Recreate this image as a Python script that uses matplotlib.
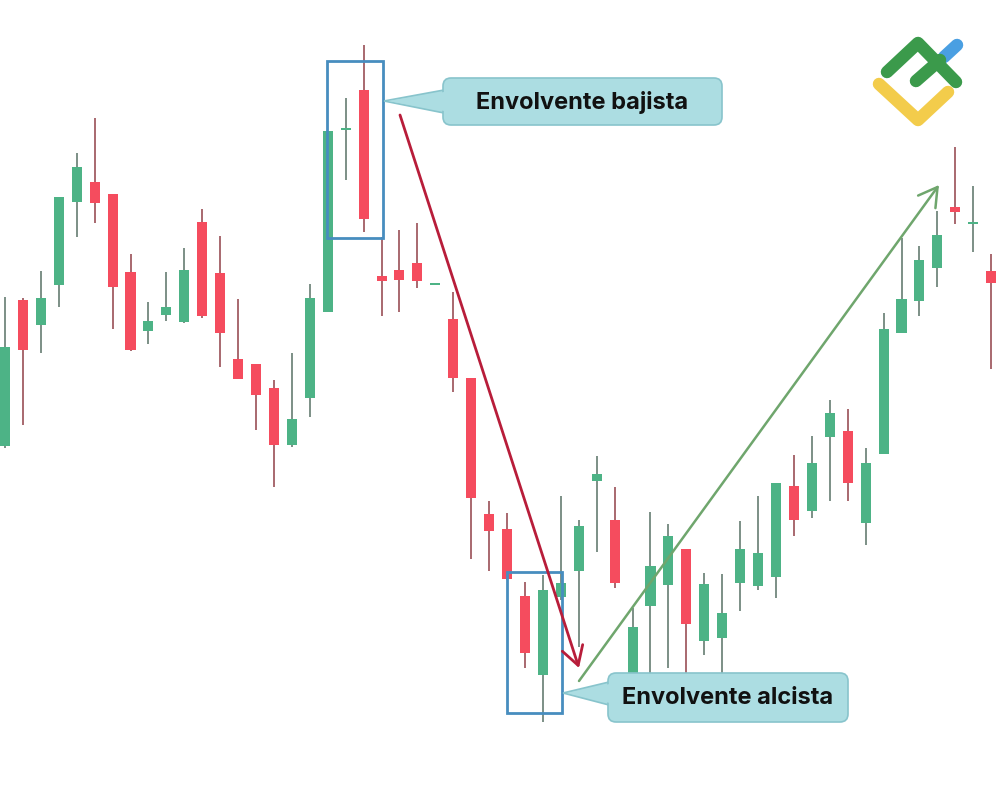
import matplotlib
matplotlib.use("Agg")
import matplotlib.pyplot as plt
from matplotlib.patches import FancyBboxPatch, Polygon, Rectangle, FancyArrowPatch
import numpy as np

# ---- candle data (price units, arbitrary scale) ----
opens  = [354, 500, 475, 515, 598, 618, 606, 528, 469, 485, 478, 578, 527, 441, 436, 412,
          355, 402, 488, 671, 710, 524, 530, 537, 516, 481, 422, 286, 271, 204, 125, 203,
          229, 319, 280, 120, 194, 215, 251, 159, 162, 217, 214, 223, 314, 289, 363, 369,
          277, 346, 467, 499, 532, 593, 577, 529]
highs  = [503, 502, 529, 603, 647, 682, 606, 546, 498, 528, 552, 591, 564, 501, 436, 420,
          447, 516, 669, 702, 755, 563, 570, 577, 516, 508, 422, 299, 287, 218, 225, 304,
          280, 344, 313, 192, 288, 276, 251, 227, 226, 279, 304, 317, 345, 364, 400, 391,
          352, 487, 562, 554, 589, 653, 614, 546]
lows   = [352, 375, 447, 493, 563, 577, 471, 449, 456, 479, 477, 482, 433, 421, 370, 313,
          353, 383, 488, 620, 568, 484, 488, 512, 516, 408, 241, 229, 220, 132, 78, 200,
          153, 248, 212, 115, 110, 132, 110, 145, 110, 189, 210, 202, 264, 282, 299, 299,
          255, 346, 467, 484, 513, 576, 548, 431]
closes = [453, 450, 502, 603, 633, 597, 513, 450, 479, 493, 530, 484, 467, 421, 405, 355,
          381, 502, 669, 673, 581, 519, 520, 519, 516, 422, 302, 269, 221, 147, 210, 217,
          274, 326, 217, 173, 234, 264, 176, 216, 187, 251, 247, 317, 280, 337, 387, 317,
          337, 471, 501, 540, 565, 588, 579, 517]

labels = ["Envolvente bajista", "Envolvente alcista"]

GREEN = "#4db386"
RED = "#f54c5e"
WICK_G = "#7c8f86"
WICK_R = "#a8686f"

fig = plt.figure(figsize=(10, 8), dpi=100)
fig.patch.set_facecolor("white")

# candle axes (full figure)
ax = fig.add_axes([0, 0, 1, 1])
n = len(opens)
x = np.arange(n)
o = np.array(opens, float)
c = np.array(closes, float)
h = np.array(highs, float)
l = np.array(lows, float)
up = c >= o
colors = np.where(up, GREEN, RED)
wcolors = np.where(up, WICK_G, WICK_R)

ax.vlines(x, l, h, colors=wcolors, linewidth=1.4, zorder=2)
body_h = np.maximum(np.abs(c - o), 2.5)
body_b = np.minimum(o, c) - np.where(np.abs(c - o) < 2.5, 1.25, 0)
ax.bar(x, body_h, bottom=body_b, width=0.56, color=colors, linewidth=0, zorder=3)

step = 17.93
x0 = 5.0
ax.set_xlim(-x0 / step, (1000 - x0) / step)
ax.set_ylim(0, 800)
ax.axis("off")

# overlay axes in pixel coordinates for annotations
ov = fig.add_axes([0, 0, 1, 1])
ov.set_xlim(0, 1000)
ov.set_ylim(800, 0)
ov.axis("off")
ov.patch.set_alpha(0)

BOX = "#478dbf"
ov.add_patch(Rectangle((327, 61), 56, 177, fill=False, edgecolor=BOX, linewidth=2.0, zorder=5))
ov.add_patch(Rectangle((507, 572), 55, 141, fill=False, edgecolor=BOX, linewidth=2.0, zorder=5))

# arrows
ov.add_patch(FancyArrowPatch((400, 115), (579, 668), arrowstyle="->,head_length=0.6,head_width=0.35",
                             mutation_scale=22, color="#b81d3a", linewidth=2.0, zorder=6,
                             shrinkA=0, shrinkB=0))
ov.add_patch(FancyArrowPatch((579, 681), (939, 185), arrowstyle="->,head_length=0.6,head_width=0.35",
                             mutation_scale=22, color="#6fa66d", linewidth=1.8, zorder=6,
                             shrinkA=0, shrinkB=0))

FILL = "#acdde2"
EDGE = "#88c4cc"

def callout(x0_, y0_, w, hgt, tip, ty0, ty1, text):
    ov.add_patch(Polygon([(x0_ + 1, ty0), tip, (x0_ + 1, ty1)], closed=True,
                         facecolor=FILL, edgecolor=EDGE, linewidth=1.2, zorder=7))
    ov.add_patch(FancyBboxPatch((x0_, y0_), w, hgt, boxstyle="round,pad=0,rounding_size=8",
                                facecolor=FILL, edgecolor=EDGE, linewidth=1.2, zorder=7))
    ov.add_patch(Polygon([(x0_ + 4, ty0 + 1.5), (tip[0] + 4, tip[1]), (x0_ + 4, ty1 - 1.5)],
                         closed=True, facecolor=FILL, edgecolor="none", zorder=8))
    ov.text(x0_ + w / 2, y0_ + hgt / 2 + 1, text, ha="center", va="center",
            fontsize=17, fontweight="bold", color="#111111",
            family=["Inter", "DejaVu Sans"], zorder=9)

callout(443, 78, 279, 47, (384, 101), 90, 113, labels[0])
callout(608, 673, 240, 49, (563, 693), 682, 705, labels[1])

# logo
lw_logo = 9
ov.plot([887, 918, 956], [72, 43, 82], color="#3b9a4b", linewidth=lw_logo,
        solid_capstyle="round", solid_joinstyle="round", zorder=10)
ov.plot([916, 940], [81, 60], color="#3b9a4b", linewidth=lw_logo, solid_capstyle="round", zorder=10)
ov.plot([944, 957], [57, 45], color="#4a9fe2", linewidth=lw_logo, solid_capstyle="round", zorder=9)
ov.plot([879, 918, 948], [84, 120, 92], color="#f3cc4b", linewidth=lw_logo,
        solid_capstyle="round", solid_joinstyle="round", zorder=10)

fig.savefig("out.png", dpi=100, facecolor="white")
